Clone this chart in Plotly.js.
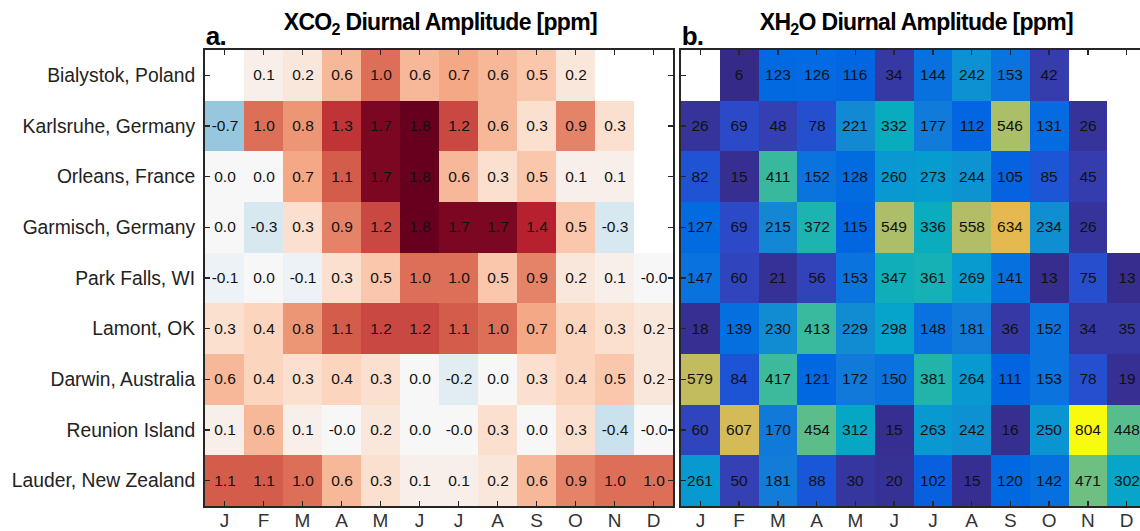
<!DOCTYPE html>
<html>
<head>
<meta charset="utf-8">
<script src="https://cdn.plot.ly/plotly-3.0.1.min.js"></script>
<style>
  html, body { margin: 0; padding: 0; background: #fff; overflow: hidden; }
  #chart { width: 1150px; height: 531px; }
  /* tight, heavy panel headings */
  #chart .annotation-text { letter-spacing: -0.7px; }
</style>
</head>
<body>
<div id="chart"></div>
<script>
// TCCON sites (rows, top to bottom) and months (columns)
const sites = [
  "Bialystok, Poland", "Karlsruhe, Germany", "Orleans, France", "Garmisch, Germany",
  "Park Falls, WI", "Lamont, OK", "Darwin, Australia", "Reunion Island", "Lauder, New Zealand"
];
const months = ["J", "F", "M", "A", "M", "J", "J", "A", "S", "O", "N", "D"];

// Monthly mean XCO2 diurnal amplitude [ppm]; null = no data
const xco2 = [
  [null, 0.1, 0.2, 0.6, 1.0, 0.6, 0.7, 0.6, 0.5, 0.2, null, null],
  [-0.7, 1.0, 0.8, 1.3, 1.7, 1.8, 1.2, 0.6, 0.3, 0.9, 0.3, null],
  [0.0, 0.0, 0.7, 1.1, 1.7, 1.8, 0.6, 0.3, 0.5, 0.1, 0.1, null],
  [0.0, -0.3, 0.3, 0.9, 1.2, 1.8, 1.7, 1.7, 1.4, 0.5, -0.3, null],
  [-0.1, 0.0, -0.1, 0.3, 0.5, 1.0, 1.0, 0.5, 0.9, 0.2, 0.1, -0.0],
  [0.3, 0.4, 0.8, 1.1, 1.2, 1.2, 1.1, 1.0, 0.7, 0.4, 0.3, 0.2],
  [0.6, 0.4, 0.3, 0.4, 0.3, 0.0, -0.2, 0.0, 0.3, 0.4, 0.5, 0.2],
  [0.1, 0.6, 0.1, -0.0, 0.2, 0.0, -0.0, 0.3, 0.0, 0.3, -0.4, -0.0],
  [1.1, 1.1, 1.0, 0.6, 0.3, 0.1, 0.1, 0.2, 0.6, 0.9, 1.0, 1.0]
];

// Monthly mean XH2O diurnal amplitude [ppm]; null = no data
const xh2o = [
  [null, 6, 123, 126, 116, 34, 144, 242, 153, 42, null, null],
  [26, 69, 48, 78, 221, 332, 177, 112, 546, 131, 26, null],
  [82, 15, 411, 152, 128, 260, 273, 244, 105, 85, 45, null],
  [127, 69, 215, 372, 115, 549, 336, 558, 634, 234, 26, null],
  [147, 60, 21, 56, 153, 347, 361, 269, 141, 13, 75, 13],
  [18, 139, 230, 413, 229, 298, 148, 181, 36, 152, 34, 35],
  [579, 84, 417, 121, 172, 150, 381, 264, 111, 153, 78, 19],
  [60, 607, 170, 454, 312, 15, 263, 242, 16, 250, 804, 448],
  [261, 50, 181, 88, 30, 20, 102, 15, 120, 142, 471, 302]
];

// Diverging map (blue = negative, red = positive)
const rdbuStops = ["#053061", "#2166ac", "#4393c3", "#92c5de", "#d1e5f0", "#f7f7f7",
                   "#fddbc7", "#f4a582", "#d6604d", "#b2182b", "#67001f"];
const rdbu = rdbuStops.map((c, i) => [i / (rdbuStops.length - 1), c]);

// Parula colour map (64 entries)
const parulaRGB = [
  [0.2081,0.1663,0.5292],[0.2116,0.1898,0.5777],[0.2123,0.2138,0.6270],[0.2081,0.2386,0.6771],
  [0.1959,0.2645,0.7279],[0.1707,0.2919,0.7792],[0.1253,0.3242,0.8303],[0.0591,0.3598,0.8683],
  [0.0117,0.3875,0.8820],[0.0060,0.4086,0.8828],[0.0165,0.4266,0.8786],[0.0329,0.4430,0.8720],
  [0.0498,0.4586,0.8641],[0.0629,0.4737,0.8554],[0.0723,0.4887,0.8467],[0.0779,0.5040,0.8384],
  [0.0793,0.5200,0.8312],[0.0749,0.5375,0.8263],[0.0641,0.5570,0.8240],[0.0488,0.5772,0.8228],
  [0.0343,0.5966,0.8199],[0.0265,0.6137,0.8135],[0.0239,0.6287,0.8038],[0.0231,0.6418,0.7913],
  [0.0228,0.6535,0.7768],[0.0267,0.6642,0.7607],[0.0384,0.6743,0.7436],[0.0590,0.6838,0.7254],
  [0.0843,0.6928,0.7062],[0.1133,0.7015,0.6859],[0.1453,0.7098,0.6646],[0.1801,0.7177,0.6424],
  [0.2178,0.7250,0.6193],[0.2586,0.7317,0.5954],[0.3022,0.7376,0.5712],[0.3482,0.7424,0.5473],
  [0.3953,0.7459,0.5244],[0.4420,0.7481,0.5033],[0.4871,0.7491,0.4840],[0.5300,0.7491,0.4661],
  [0.5709,0.7485,0.4494],[0.6099,0.7473,0.4337],[0.6473,0.7456,0.4188],[0.6834,0.7435,0.4044],
  [0.7184,0.7411,0.3905],[0.7525,0.7384,0.3768],[0.7858,0.7356,0.3633],[0.8185,0.7327,0.3498],
  [0.8507,0.7299,0.3360],[0.8824,0.7274,0.3217],[0.9139,0.7258,0.3063],[0.9450,0.7261,0.2886],
  [0.9739,0.7314,0.2666],[0.9938,0.7455,0.2403],[0.9990,0.7653,0.2164],[0.9955,0.7861,0.1967],
  [0.9880,0.8066,0.1794],[0.9789,0.8271,0.1633],[0.9697,0.8481,0.1475],[0.9626,0.8705,0.1309],
  [0.9589,0.8949,0.1132],[0.9598,0.9218,0.0948],[0.9661,0.9514,0.0755],[0.9763,0.9831,0.0538]
];
const parula = parulaRGB.map((c, i) => [
  i / (parulaRGB.length - 1),
  "rgb(" + c.map(v => Math.round(v * 255)).join(",") + ")"
]);

// Cell labels: one decimal for XCO2 (keeps the sign of rounded negatives), integers for XH2O
const fmt1 = v => v === null ? "" : (Object.is(v, -0) ? "-" : "") + v.toFixed(1);
const fmt0 = v => v === null ? "" : String(v);
const xIdx = months.map((m, i) => i);

const W = 1150, H = 531;
const yDom = [1 - 506 / H, 1 - 50 / H];
const font = "Liberation Sans, Arial, Helvetica, sans-serif";

const frame = {
  showline: true, linecolor: "#262626", linewidth: 2, mirror: "ticks",
  ticks: "inside", ticklen: 5, tickwidth: 1.5, tickcolor: "#262626",
  showgrid: false, zeroline: false, fixedrange: true
};

const cellFont = { family: font, size: 15.5, color: "#111" };

const traces = [
  {
    type: "heatmap", x: xIdx, y: sites, z: xco2,
    text: xco2.map(r => r.map(fmt1)), texttemplate: "%{text}", textfont: cellFont,
    colorscale: rdbu, zmin: -1.8, zmax: 1.8, showscale: false,
    xaxis: "x", yaxis: "y", hoverinfo: "skip"
  },
  {
    type: "heatmap", x: xIdx, y: sites, z: xh2o,
    text: xh2o.map(r => r.map(fmt0)), texttemplate: "%{text}", textfont: cellFont,
    colorscale: parula, showscale: false,
    xaxis: "x2", yaxis: "y2", hoverinfo: "skip"
  }
];

const xTicks = { tickvals: xIdx, ticktext: months, range: [-0.5, 11.5],
                 tickfont: { family: font, size: 19, color: "#333" }, ticklabelstandoff: -4 };

const layout = {
  width: W, height: H,
  margin: { l: 0, r: 0, t: 0, b: 0, pad: 0 },
  paper_bgcolor: "#fff", plot_bgcolor: "rgba(0,0,0,0)",
  font: { family: font, color: "#222" },
  showlegend: false,
  xaxis: Object.assign({}, frame, xTicks, { domain: [205 / W, 673 / W], anchor: "y" }),
  yaxis: Object.assign({}, frame, {
    domain: yDom, anchor: "x", type: "category", categoryarray: sites, autorange: "reversed",
    tickfont: { family: font, size: 19.3, color: "#222" }, ticklabelstandoff: 4
  }),
  xaxis2: Object.assign({}, frame, xTicks, { domain: [681 / W, 1146 / W], anchor: "y2" }),
  yaxis2: Object.assign({}, frame, {
    domain: yDom, anchor: "x2", type: "category", categoryarray: sites, autorange: "reversed",
    showticklabels: false
  }),
  annotations: [
    { text: "<b>XCO<sub>2</sub> Diurnal Amplitude [ppm]</b>", xref: "paper", yref: "paper",
      x: 440 / W, y: 1 - 23 / H, xanchor: "center", yanchor: "middle", showarrow: false,
      font: { family: font, size: 23, color: "#000" } },
    { text: "<b>XH<sub>2</sub>O Diurnal Amplitude [ppm]</b>", xref: "paper", yref: "paper",
      x: 916 / W, y: 1 - 23 / H, xanchor: "center", yanchor: "middle", showarrow: false,
      font: { family: font, size: 23, color: "#000" } },
    { text: "<b>a.</b>", xref: "paper", yref: "paper", x: 203 / W, y: 1 - 36 / H,
      xanchor: "left", yanchor: "middle", showarrow: false,
      font: { family: font, size: 26, color: "#000" } },
    { text: "<b>b.</b>", xref: "paper", yref: "paper", x: 679 / W, y: 1 - 36 / H,
      xanchor: "left", yanchor: "middle", showarrow: false,
      font: { family: font, size: 26, color: "#000" } }
  ]
};

Plotly.newPlot("chart", traces, layout, { staticPlot: true, displayModeBar: false });
</script>
</body>
</html>
